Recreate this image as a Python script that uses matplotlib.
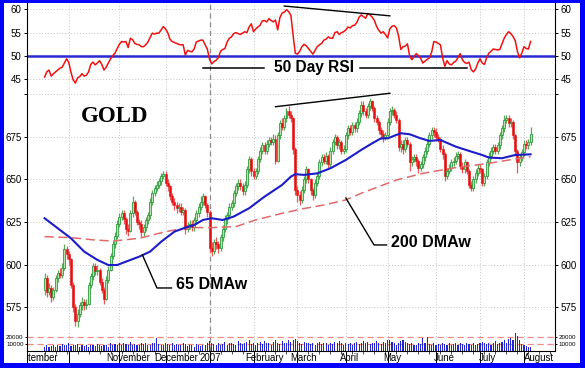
import matplotlib.pyplot as plt
from matplotlib.patches import Rectangle

plt.rcParams['font.family'] = ['Liberation Sans', 'DejaVu Sans']

W, H = 585, 368

# daily gold prices, trading day 0 = mid September 2006
opens = [585,592,584,586,581,585,592,595,594,598,
         609,606,603,588,575,567,571,576,578,576,
         577,588,593,599,596,597,590,585,580,591,
         597,605,612,617,624,628,630,627,621,620,
         630,637,631,625,624,619,622,626,629,637,
         642,645,647,649,652,653,648,646,640,637,
         635,633,634,631,632,621,623,624,622,626,
         630,634,637,640,635,631,610,608,613,612,
         610,616,621,627,629,634,636,642,646,648,
         646,643,647,656,662,655,652,655,662,667,
         670,667,671,673,672,674,661,676,683,681,
         686,690,688,686,668,644,641,638,644,650,
         656,650,644,641,648,652,660,663,661,664,
         659,667,672,675,670,672,667,668,676,680,
         678,682,680,684,689,694,690,688,693,696,
         692,686,684,679,677,675,676,684,690,691,
         688,685,669,671,668,673,671,660,662,663,
         661,657,659,663,667,671,676,679,678,675,
         674,668,665,652,655,657,660,661,664,665,
         658,656,660,655,647,645,650,654,657,656,
         648,652,660,664,667,669,667,670,676,680,
         685,686,683,684,676,667,660,663,666,671,
         670,672]
closes = [592,584,586,581,585,592,595,594,598,609,
          606,603,588,575,567,571,576,578,576,577,
          588,593,599,596,597,590,585,580,591,597,
          605,612,617,624,628,630,627,621,620,630,
          637,631,625,624,619,622,626,629,637,642,
          645,647,649,652,653,648,646,640,637,635,
          633,634,631,632,621,623,624,622,626,630,
          634,637,640,635,631,610,608,613,612,610,
          616,621,627,629,634,636,642,646,648,646,
          643,647,656,662,655,652,655,662,667,670,
          667,671,673,672,674,661,676,683,681,686,
          690,688,686,668,644,641,638,644,650,656,
          650,644,641,648,652,660,663,661,664,659,
          667,672,675,670,672,667,668,676,680,678,
          682,680,684,689,694,690,688,693,696,692,
          686,684,679,677,675,676,684,690,691,688,
          685,669,671,668,673,671,660,662,663,661,
          657,659,663,667,671,676,679,678,675,674,
          668,665,652,655,657,660,661,664,665,658,
          656,660,655,647,645,650,654,657,656,648,
          652,660,664,667,669,667,670,676,680,685,
          686,683,684,676,667,660,663,666,671,670,
          672,677]
highs = [595,594,589,588,587,594,597,598,601,612,
         611,608,604,590,577,574,578,581,580,580,
         590,595,601,601,600,598,592,587,593,599,
         607,614,619,626,630,632,632,628,624,632,
         640,638,632,627,626,624,628,631,639,644,
         647,649,651,654,655,655,650,647,642,639,
         637,636,636,634,633,625,626,626,628,632,
         636,640,642,641,636,632,613,615,616,614,
         618,623,629,631,636,638,644,648,650,650,
         648,649,658,664,663,657,657,664,669,672,
         672,673,675,675,677,676,678,685,686,688,
         692,693,690,687,669,646,643,646,652,658,
         657,651,645,650,654,662,665,665,666,665,
         669,674,677,676,674,673,670,678,682,682,
         684,684,686,691,696,696,692,695,698,697,
         693,688,685,681,679,678,686,692,693,692,
         690,686,673,673,675,675,672,664,665,665,
         662,661,665,669,673,678,681,681,680,677,
         675,670,666,657,659,662,663,666,667,666,
         660,662,661,656,649,652,656,659,659,657,
         654,662,666,669,671,671,672,678,682,688,
         688,688,686,685,677,668,665,668,673,673,
         674,681]
lows = [582,581,582,578,579,584,590,592,592,597,
        603,600,586,572,564,563,569,573,573,574,
        576,586,591,594,594,588,583,577,579,589,
        596,603,610,615,622,626,624,618,617,619,
        628,629,623,621,616,617,620,624,627,635,
        640,643,645,647,650,646,643,638,635,632,
        630,631,629,629,618,619,621,620,620,624,
        628,632,635,633,628,607,605,606,609,607,
        608,614,619,624,627,632,634,640,644,644,
        641,641,645,654,652,650,650,653,660,665,
        665,665,669,670,670,659,660,674,679,679,
        684,686,684,665,641,637,635,636,642,648,
        648,641,638,639,646,650,658,659,659,657,
        657,665,670,668,668,665,665,666,674,676,
        676,678,678,682,687,688,686,686,691,690,
        684,682,677,674,672,673,674,682,688,686,
        683,667,666,665,666,669,655,658,660,658,
        654,655,657,661,665,669,674,675,673,672,
        666,662,649,650,653,655,658,659,662,656,
        654,654,653,645,643,643,648,652,654,646,
        646,650,658,662,665,665,665,668,674,678,
        683,681,681,674,664,654,658,661,664,668,
        668,670]

# volume in thousands of contracts
volume_k = [6,8,5,7,9,6,8,7,10,9,
            8,11,7,9,8,10,6,9,7,8,
            6,8,9,7,10,8,7,9,8,6,
            11,9,10,8,12,9,11,10,8,13,
            9,10,8,9,11,10,12,9,8,11,
            12,19,10,9,8,11,10,9,12,8,
            10,9,8,11,10,7,9,8,6,10,
            9,7,8,9,11,14,12,10,9,11,
            8,10,13,9,11,12,10,8,14,12,
            10,11,13,15,10,12,9,11,13,10,
            14,12,11,9,13,15,12,10,14,11,
            12,16,13,15,17,14,12,10,13,11,
            12,10,12,9,11,13,10,12,11,9,
            12,10,13,11,14,12,9,11,10,12,
            9,11,13,10,12,14,11,13,10,12,
            11,14,12,10,13,11,15,16,13,11,
            9,12,14,15,13,11,10,12,9,8,
            11,10,19,12,20,10,9,11,8,10,
            9,12,10,8,11,9,10,12,9,11,
            10,9,12,10,8,11,9,10,12,13,
            11,10,12,9,11,14,10,12,13,15,
            11,17,19,16,26,21,15,10,8,7,
            6,5]

rsi50 = [45.5,46.6,47.0,45.7,46.2,46.6,47.0,47.4,47.6,48.5,
         49.4,48.6,46.5,44.9,44.2,45.3,45.6,46.2,45.7,45.9,
         46.6,48.2,48.7,48.1,48.5,49.0,48.2,47.0,47.6,48.5,
         49.4,50.1,50.6,51.6,52.5,53.1,53.0,53.1,51.8,53.8,
         53.5,52.7,52.5,52.4,52.0,52.0,52.4,53.0,54.0,54.9,
         54.7,54.9,54.9,55.6,56.3,55.8,55.0,53.6,53.1,52.9,
         52.7,52.5,52.4,52.4,50.2,51.2,51.0,50.9,51.5,53.0,
         53.2,53.4,53.4,52.4,51.5,49.3,48.3,48.8,49.1,49.6,
         51.0,51.4,51.6,53.0,53.8,54.1,54.8,55.0,54.8,54.6,
         54.9,55.2,55.0,56.2,56.9,55.2,55.8,56.2,56.6,57.5,
         57.6,57.3,58.0,57.6,57.3,57.7,55.6,58.2,59.2,59.4,
         59.9,59.5,58.7,54.5,50.6,50.4,51.0,52.0,52.5,52.2,
         51.6,51.0,50.4,51.2,52.0,52.4,52.7,53.4,53.6,54.1,
         53.8,53.8,55.0,55.2,54.6,55.0,55.2,55.6,56.2,56.0,
         56.5,56.6,57.2,58.3,58.8,58.4,58.1,59.1,58.8,58.3,
         57.6,56.3,55.5,54.9,55.2,54.6,53.9,55.8,56.4,56.5,
         56.0,54.2,51.4,52.0,52.1,52.6,50.0,49.2,49.9,50.5,
         50.1,49.5,48.5,48.9,49.3,49.6,50.8,53.1,53.0,52.7,
         52.4,49.6,47.8,49.0,48.3,48.1,48.6,48.9,49.7,50.5,
         49.2,48.6,48.4,48.7,47.1,46.6,47.2,48.5,49.4,48.5,
         48.2,49.6,50.6,51.0,51.5,51.4,51.3,51.4,52.6,53.8,
         54.6,55.2,54.8,54.2,53.3,51.0,49.6,50.6,52.0,51.6,
         51.5,53.1]

# moving averages read at sample days
dma65_day = [0, 6, 12, 18, 24, 29, 33, 37, 43, 48, 53, 59, 64, 68, 72, 76, 81, 86,
             93, 100, 108, 112, 114, 118, 124, 130, 137, 144, 149, 153, 156, 160,
             162, 166, 171, 175, 180, 187, 194, 199, 202, 208, 214, 221]
dma65 = [627.2, 621.3, 615.4, 607.6, 602.7, 599.7, 599.7, 601.7, 604.6, 607.6,
         613.4, 619.3, 621.7, 623.2, 626.2, 627.2, 626.2, 628.2, 633.1, 639.9,
         646.8, 651.7, 653.1, 652.7, 653.6, 656.6, 661.5, 667.4, 671.3, 674.2,
         674.2, 676.2, 677.2, 676.6, 674.2, 672.7, 673.2, 669.3, 666.4, 664.4,
         662.9, 662.5, 664.4, 664.8]
dma200_day = [0, 12, 23, 31, 43, 55, 65, 76, 87, 96, 108, 117, 127, 137, 144,
              152, 160, 172, 187, 202, 216, 221]
dma200 = [616.4, 615.8, 614.4, 613.8, 615.4, 619.3, 621.7, 621.7, 622.3, 626.2,
          630.1, 632.7, 635.0, 638.0, 641.9, 645.8, 649.7, 653.6, 657.0, 659.5,
          662.5, 663.4]

# month starts (trading day) and axis labels
month_start = [-8, 11, 34, 55, 75, 95, 115, 137, 156, 178, 198, 218]
label_names = ['September', 'November', 'December', '2007', 'February', 'March',
               'April', 'May', 'June', 'July', 'August']
label_start = [-8, 34, 55, 75, 95, 115, 137, 156, 178, 198, 218]
year_start = 75

# hand-drawn trend lines on the chart
rsi_trend = ([109, 157], [60.7, 58.6])
price_trend = ([105, 157], [692.8, 700.7])

XMIN, XMAX = -0.5, 232.1
BLUE = '#0000ff'

fig = plt.figure(figsize=(W / 100, H / 100), dpi=100)
fig.patch.set_facecolor('white')


def panel(top, bottom):
    ax = fig.add_axes([27 / W, 1 - bottom / H, 528 / W, (bottom - top) / H])
    ax.set_xlim(XMIN, XMAX)
    ax.spines['top'].set_visible(False)
    ax.spines['bottom'].set_visible(False)
    ax.spines['left'].set_linewidth(0.8)
    ax.spines['right'].set_linewidth(0.8)
    ax.set_xticks(month_start)
    ax.tick_params(axis='x', length=0, labelbottom=False)
    ax.tick_params(axis='y', direction='out', length=2.5, width=0.7, labelsize=7,
                   left=True, right=True, labelleft=True, labelright=True, pad=1.5)
    ax.grid(True, color='#c4c4c4', linestyle=(0, (1, 2)), linewidth=0.7)
    ax.set_axisbelow(True)
    ax.axvline(year_start, color='#8c8c8c', linestyle=(0, (4, 3)), linewidth=0.9, zorder=1)
    return ax


# ---- RSI panel ----
ax_rsi = panel(3, 88)
ax_rsi.set_ylim(43.15, 61.35)
ax_rsi.set_yticks([45, 50, 55, 60])
ax_rsi.axhline(50, color='#2a2ad0', linewidth=1.8, zorder=2)
ax_rsi.plot(range(len(rsi50)), rsi50, color='#ee1111', linewidth=1.1, zorder=3)
ax_rsi.plot(*rsi_trend, color='black', linewidth=1.0, zorder=4)
ax_rsi.plot([72, 99.6], [47.5, 47.5], color='black', linewidth=1.1)
ax_rsi.plot([143.6, 192], [47.5, 47.5], color='black', linewidth=1.1)
ax_rsi.text(122.3, 47.5, '50 Day RSI', ha='center', va='center', fontsize=11.2,
            fontweight='bold')

# ---- price panel ----
ax_p = panel(88, 331)
ax_p.set_ylim(560.9, 703.8)
ax_p.set_yticks([575, 600, 625, 650, 675, 700])
ax_p.set_yticklabels(['575', '600', '625', '650', '675', ''])

for d, o, h, l, c in zip(range(len(closes)), opens, highs, lows, closes):
    if c >= o:
        ax_p.vlines(d, l, h, color='#5aa85a', linewidth=0.9, zorder=2)
        ax_p.bar(d, max(c - o, 0.6), bottom=o, width=0.9, color='#b6e4ae',
                 edgecolor='#2e9a3e', linewidth=0.6, zorder=2.1)
    else:
        ax_p.vlines(d, l, h, color='#ea5a5a', linewidth=0.9, zorder=2)
        ax_p.bar(d, o - c, bottom=c, width=0.9, color='#e41010',
                 edgecolor='#e41010', linewidth=0.4, zorder=2.1)

ax_p.plot(dma200_day, dma200, color='#e06a6a', linewidth=1.1,
          linestyle=(0, (6, 3)), zorder=3)
ax_p.plot(dma65_day, dma65, color='#1c1cc8', linewidth=1.5, zorder=3.2)
ax_p.plot(*price_trend, color='black', linewidth=1.0, zorder=4)

ax_p.plot([44.5, 51.1, 57.7], [605.6, 586.2, 586.2], color='black', linewidth=1.0, zorder=4)
ax_p.text(59.9, 588.3, '65 DMAw', ha='left', va='center', fontsize=11.5, fontweight='bold')
ax_p.plot([137, 149.8, 155.5], [639.1, 611.5, 611.5], color='black', linewidth=1.0, zorder=4)
ax_p.text(157.7, 613.2, '200 DMAw', ha='left', va='center', fontsize=11.5, fontweight='bold')

fig.text(115 / W, 1 - 116 / H, 'GOLD', ha='center', va='center', fontsize=16.5,
         fontweight='bold', family=['Liberation Serif', 'DejaVu Serif'])

# ---- volume panel ----
ax_v = panel(331, 351)
ax_v.spines['bottom'].set_visible(True)
ax_v.spines['bottom'].set_linewidth(0.8)
ax_v.set_ylim(0, 28500)
ax_v.set_yticks([10000, 20000])
ax_v.set_yticklabels(['10000', '20000'])
ax_v.tick_params(axis='y', labelsize=4.5, length=1.5, pad=1)
ax_v.grid(False, axis='y')
ax_v.tick_params(axis='x', which='major', length=8.5, width=0.7, direction='out', bottom=True)
ax_v.set_xticks(range(0, 232, 5), minor=True)
ax_v.tick_params(axis='x', which='minor', length=2, width=0.5, direction='out', bottom=True)
for lvl in (10000, 20000):
    ax_v.axhline(lvl, color='#f08a8a', linestyle=(0, (5, 3)), linewidth=0.9, zorder=1.5)
ax_v.bar(range(len(volume_k)), [v * 1000 for v in volume_k], width=0.5,
         color='#2424d0', zorder=2)

# ---- month labels (clipped to the plot width) ----
ax_lab = fig.add_axes([27 / W, 1 - 363 / H, 528 / W, 12 / H])
ax_lab.set_xlim(XMIN, XMAX)
ax_lab.set_ylim(0, 1)
ax_lab.axis('off')
for name, start in zip(label_names, label_start):
    ax_lab.text(start + 0.5, 0.38, name, ha='left', va='center', fontsize=6.9, clip_on=True)

# ---- blue frame ----
for x0, y0, w, h in [(0, 0, 4 / W, 1), (0, 1 - 3 / H, 1, 3 / H),
                     (580 / W, 0, 5 / W, 1), (0, 0, 1, 5 / H)]:
    fig.add_artist(Rectangle((x0, y0), w, h, transform=fig.transFigure,
                             facecolor=BLUE, edgecolor='none', zorder=10))

fig.savefig('out.png', dpi=100)
